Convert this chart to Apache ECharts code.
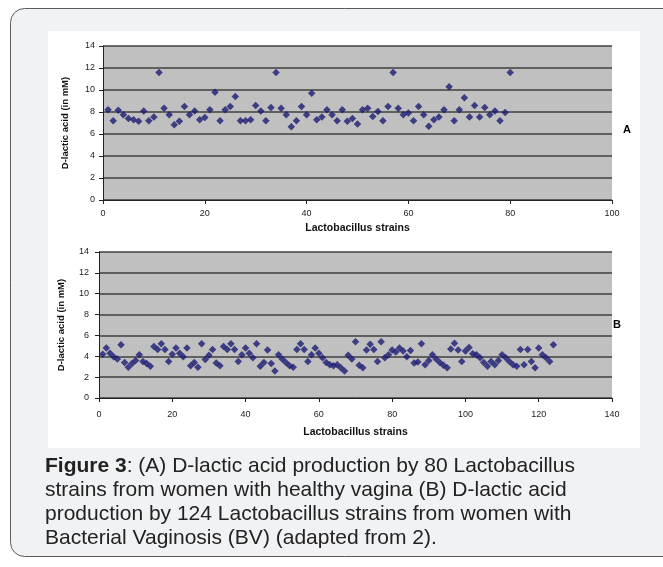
<!DOCTYPE html>
<html><head><meta charset="utf-8">
<script src="https://cdn.jsdelivr.net/npm/echarts@6/dist/echarts.min.js"></script>
<style>html,body{margin:0;padding:0;background:#fff}#c{width:663px;height:567px}</style>
</head><body><div id="c"></div>
<script>
// Panel A: D-lactic acid (mM) for 80 strains, healthy vagina
const strainsA = Array.from({length: 80}, (_, i) => i + 1);
const valuesA = [8.2,7.2,8.15,7.75,7.4,7.3,7.15,8.1,7.2,7.55,11.6,8.35,7.75,6.85,7.15,8.5,7.75,8.1,7.3,7.5,
8.2,9.8,7.2,8.2,8.5,9.4,7.2,7.2,7.3,8.6,8.1,7.2,8.4,11.6,8.35,7.75,6.65,7.2,8.5,7.75,
9.7,7.3,7.55,8.2,7.75,7.2,8.2,7.15,7.4,6.9,8.2,8.35,7.6,8.05,7.2,8.5,11.6,8.35,7.75,7.9,
7.2,8.5,7.75,6.7,7.3,7.55,8.2,10.3,7.2,8.2,9.3,7.55,8.6,7.55,8.4,7.75,8.1,7.2,7.95,11.6];
// Panel B: D-lactic acid (mM) for 124 strains, bacterial vaginosis
const strainsB = Array.from({length: 124}, (_, i) => i + 1);
const valuesB = [4.2,4.8,4.3,3.95,3.75,5.1,3.4,2.95,3.3,3.6,4.15,3.5,3.3,3.05,4.95,4.65,5.2,4.65,3.5,4.2,
4.8,4.3,3.95,4.8,3.1,3.4,2.95,5.2,3.7,4.1,4.65,3.35,3.1,4.95,4.65,5.2,4.65,3.5,4.15,4.8,
4.3,3.85,5.2,3.05,3.4,4.6,3.3,2.6,4.15,3.75,3.4,3.1,2.95,4.65,5.2,4.65,3.5,4.15,4.8,4.3,
3.85,3.4,3.2,3.1,3.2,2.9,2.6,4.1,3.75,5.4,3.15,2.9,4.6,5.15,4.65,3.5,5.4,3.85,4.15,4.6,
4.4,4.8,4.5,3.95,4.55,3.35,3.45,5.2,3.2,3.6,4.15,3.75,3.4,3.15,2.9,4.7,5.25,4.6,3.5,4.5,
4.85,4.25,4.15,3.85,3.4,3.05,3.5,3.2,3.6,4.15,3.85,3.5,3.2,3.05,4.65,3.2,4.65,3.5,2.9,4.8,
4.15,3.85,3.5,5.1];
const yTicks = {min: 0, max: 14, interval: 2};
const xTicksA = {min: 0, max: 100, interval: 20};
const xTicksB = {min: 0, max: 140, interval: 20};
const xTitle = 'Lactobacillus strains';
const yTitle = 'D-lactic acid (in mM)';
const captionLines = [
  '{b|Figure 3}: (A) D-lactic acid production by 80 Lactobacillus',
  'strains from women with healthy vagina (B) D-lactic acid',
  'production by 124 Lactobacillus strains from women with',
  'Bacterial Vaginosis (BV) (adapted from 2).'
];

const F = 'Liberation Sans, Arial, sans-serif';
const chart = echarts.init(document.getElementById('c'), null, {renderer: 'canvas'});
function xAxis(idx, t, gap, margin) {
  return {type: 'value', gridIndex: idx, min: t.min, max: t.max, interval: t.interval,
    name: xTitle, nameLocation: 'middle', nameGap: gap,
    nameTextStyle: {fontFamily: F, fontWeight: 'bold', fontSize: 10.5, color: '#111'},
    axisLine: {show: true, onZero: false, lineStyle: {color: '#222', width: 1}},
    axisTick: {show: true, length: 4, lineStyle: {color: '#222'}},
    axisLabel: {fontFamily: F, fontSize: 9, color: '#222', margin: margin},
    splitLine: {show: false}};
}
function yAxis(idx, gap, margin) {
  return {type: 'value', gridIndex: idx, min: yTicks.min, max: yTicks.max, interval: yTicks.interval,
    name: yTitle, nameLocation: 'middle', nameGap: gap, nameRotate: 90,
    nameTextStyle: {fontFamily: F, fontWeight: 'bold', fontSize: 9.5, color: '#111'},
    axisLine: {show: true, lineStyle: {color: '#222', width: 1}},
    axisTick: {show: true, length: 4, lineStyle: {color: '#222'}},
    axisLabel: {fontFamily: F, fontSize: 9, color: '#222', margin: margin},
    splitLine: {show: true, lineStyle: {color: '#404040', width: 1.5}}};
}
const marker = {symbol: 'diamond', symbolSize: 7.5, itemStyle: {color: '#1c1c74'}};
chart.setOption({
  animation: false,
  graphic: [
    {type: 'rect', z: -20, silent: true, shape: {x: 10.5, y: 8.5, width: 700, height: 548, r: 14},
      style: {fill: '#f1f2f4', stroke: '#5a5a5a', lineWidth: 1}},
    {type: 'rect', z: -19, silent: true, shape: {x: 48, y: 31, width: 592, height: 417},
      style: {fill: '#ffffff'}},
    {type: 'text', z: 10, left: 623, top: 124, style: {text: 'A', font: 'bold 11px ' + F, fill: '#000'}},
    {type: 'text', z: 10, left: 613, top: 319, style: {text: 'B', font: 'bold 11px ' + F, fill: '#000'}},
    {type: 'text', z: 10, left: 45, top: 454, style: {
      text: captionLines.join('\n'), font: '21px ' + F, fontSize: 21, fontFamily: F, fill: '#222', lineHeight: 24,
      rich: {b: {fontWeight: 'bold', fontSize: 21, fontFamily: F, fill: '#222', lineHeight: 24}}}}
  ],
  grid: [
    {left: 103, top: 46, width: 509, height: 154, show: true, backgroundColor: '#c0c0c0', borderWidth: 0},
    {left: 99, top: 252, width: 513, height: 146, show: true, backgroundColor: '#c0c0c0', borderWidth: 0}
  ],
  xAxis: [xAxis(0, xTicksA, 23, 9), xAxis(1, xTicksB, 29, 12)],
  yAxis: [yAxis(0, 33, 8), yAxis(1, 33, 10)],
  series: [
    Object.assign({type: 'scatter', xAxisIndex: 0, yAxisIndex: 0, data: strainsA.map((x, i) => [x, valuesA[i]])}, marker),
    Object.assign({type: 'scatter', xAxisIndex: 1, yAxisIndex: 1, data: strainsB.map((x, i) => [x, valuesB[i]])}, marker)
  ]
});
</script></body></html>
